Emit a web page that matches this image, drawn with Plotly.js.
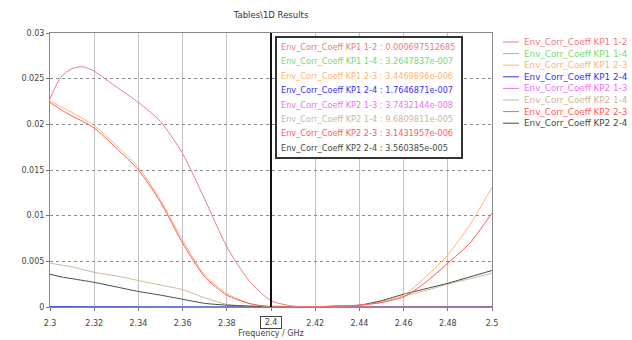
<!DOCTYPE html>
<html>
<head>
<meta charset="utf-8">
<script src="https://cdn.plot.ly/plotly-3.0.1.min.js"></script>
<style>html,body{margin:0;padding:0;background:#fff;}#chart{width:632px;height:340px;}</style>
</head>
<body>
<div id="chart"></div>
<script>
// ---- data ----
const freq = [2.30,2.305,2.31,2.315,2.32,2.33,2.34,2.35,2.36,2.37,2.38,2.39,2.40,2.41,2.42,2.43,2.44,2.45,2.46,2.47,2.48,2.49,2.50];
const kp1_12 = [0.0228,0.0252,0.0261,0.0263,0.0258,0.0241,0.0224,0.0203,0.0168,0.0118,0.0066,0.0029,0.0007,0.0001,0,0,0,0,0,0,0,0,0];
const kp1_14 = [0.00004,0.00004,0.00003,0.00003,0.00003,0.00002,0.00002,0.00001,0.00001,0,0,0,0,0,0,0,0,0.00001,0.00001,0.00002,0.00002,0.00003,0.00004];
const kp1_23 = [0.0226,0.0219,0.0213,0.0206,0.0199,0.0177,0.0153,0.0117,0.0073,0.0035,0.0015,0.0004,0.00001,0,0.00003,0.0001,0.0002,0.0005,0.0013,0.0033,0.0057,0.0090,0.0131];
const kp1_24 = [0.00003,0.00003,0.00003,0.00002,0.00002,0.00002,0.00001,0.00001,0,0,0,0,0,0,0,0,0,0.00001,0.00001,0.00001,0.00002,0.00002,0.00003];
const kp2_13 = [0.00002,0.00002,0.00002,0.00002,0.00001,0.00001,0.00001,0,0,0,0,0,0,0,0,0,0,0,0.00001,0.00001,0.00001,0.00002,0.00002];
const kp2_14 = [0.0048,0.0046,0.0044,0.0041,0.0038,0.0034,0.0029,0.0024,0.0019,0.0010,0.0003,0.0001,0.0001,0.00005,0.00002,0.0001,0.0002,0.0006,0.0012,0.0018,0.0025,0.0031,0.0037];
const kp2_23 = [0.0224,0.0216,0.0209,0.0203,0.0196,0.0174,0.0150,0.0115,0.0070,0.0033,0.0013,0.0004,0.00001,0,0.00002,0.0001,0.0002,0.0005,0.0011,0.0027,0.0048,0.0070,0.0103];
const kp2_24 = [0.0036,0.0033,0.0031,0.0029,0.0027,0.0022,0.0017,0.0013,0.00085,0.0004,0.0002,0.0001,0.00004,0.00002,0.00003,0.0001,0.0002,0.0007,0.0014,0.0020,0.0026,0.0033,0.0040];

const seriesNames = ["Env_Corr_Coeff KP1 1-2","Env_Corr_Coeff KP1 1-4","Env_Corr_Coeff KP1 2-3","Env_Corr_Coeff KP1 2-4",
                     "Env_Corr_Coeff KP2 1-3","Env_Corr_Coeff KP2 1-4","Env_Corr_Coeff KP2 2-3","Env_Corr_Coeff KP2 2-4"];
const seriesData = [kp1_12,kp1_14,kp1_23,kp1_24,kp2_13,kp2_14,kp2_23,kp2_24];
const markerFreq = 2.4;
const markerValues = ["0.000697512685","3.2647837e-007","3.4469896e-006","1.7646871e-007",
                      "3.7432144e-008","9.6809811e-005","3.1431957e-006","3.560385e-005"];
const xTicks = [2.3,2.32,2.34,2.36,2.38,2.4,2.42,2.44,2.46,2.48,2.5];
const xTickText = ["2.3","2.32","2.34","2.36","2.38","2.4","2.42","2.44","2.46","2.48","2.5"];
const yTicks = [0,0.005,0.01,0.015,0.02,0.025,0.03];
const yTickText = ["0","0.005","0.01","0.015","0.02","0.025","0.03"];

// ---- styles ----
const colors = ["#f07a84","#78d878","#ffb574","#3434f0","#f070f0","#c9b99a","#ff5a5a","#3e4c40"];
const drawOrder = [4,1,3,5,7,2,6,0];
const FONT = "DejaVu Sans";
const FS = 8.2;
const FSL = 8.8;

const traces = drawOrder.map(i => ({
  x: freq, y: seriesData[i], type: "scatter", mode: "lines", name: seriesNames[i],
  line: {color: colors[i], width: 1, shape: "spline", smoothing: 0.7},
  showlegend: false, hoverinfo: "skip"
}));

// layout geometry (pixels)
const W = 632, H = 340, L = 50, R = 140, T = 33, B = 33;
const pw = W - L - R, ph = H - T - B;
const px = v => (v - L) / pw;
const py = v => (H - B - v) / ph;

const annotations = [];
const shapes = [];

// marker line
shapes.push({type:"line", xref:"x", yref:"paper", x0:markerFreq, x1:markerFreq, y0:0, y1:1,
             line:{color:"#111", width:2}});
// marker box
shapes.push({type:"rect", xref:"paper", yref:"paper", x0:px(276), x1:px(462), y0:py(158), y1:py(37),
             line:{color:"#333", width:2}, fillcolor:"#fff"});
seriesNames.forEach((n,i) => {
  annotations.push({xref:"paper", yref:"paper", x:px(279), y:py(47 + i*14.4), xanchor:"left", yanchor:"middle",
    text: n + " : " + markerValues[i], showarrow:false, font:{family:FONT, size:FS, color:colors[i]}});
});
// legend at right
seriesNames.forEach((n,i) => {
  const yy = 42 + i*11.6;
  shapes.push({type:"line", xref:"paper", yref:"paper", x0:px(503), x1:px(519), y0:py(yy), y1:py(yy),
               line:{color:colors[i], width:1}});
  annotations.push({xref:"paper", yref:"paper", x:px(522), y:py(yy), xanchor:"left", yanchor:"middle",
    text:n, showarrow:false, font:{family:FONT, size:FSL, color:colors[i]}});
});
// boxed marker tick label
annotations.push({xref:"x", yref:"paper", x:markerFreq, y:py(322), xanchor:"center", yanchor:"middle",
  text:"2.4", showarrow:false, font:{family:FONT, size:8, color:"#444"},
  bordercolor:"#444", borderwidth:1, borderpad:1, bgcolor:"#fff", width:18});

const layout = {
  width: W, height: H,
  margin: {l:L, r:R, t:T, b:B},
  paper_bgcolor:"#fff", plot_bgcolor:"#fff",
  showlegend:false,
  title: {text:"Tables\\1D Results", font:{family:FONT, size:8.5, color:"#333"}, xref:"container", x:271/W, xanchor:"center", y:1-15/H, yanchor:"middle"},
  xaxis: {range:[2.3,2.5], tickvals:xTicks, ticktext:xTickText, showgrid:true, gridcolor:"#c4c4c4", gridwidth:1,
          zeroline:false, showline:true, linecolor:"#888", linewidth:1, mirror:true, ticks:"outside", ticklen:3, tickcolor:"#777",
          ticklabelstandoff:5,
          tickfont:{family:FONT, size:8, color:"#444"},
          title:{text:"Frequency / GHz", font:{family:FONT, size:8, color:"#444"}, standoff:3}},
  yaxis: {range:[0,0.03], tickvals:yTicks, ticktext:yTickText, showgrid:true, gridcolor:"#8a8a8a", griddash:"dot", gridwidth:1,
          zeroline:false, showline:true, linecolor:"#888", linewidth:1, mirror:true, ticks:"outside", ticklen:3, tickcolor:"#777",
          tickfont:{family:FONT, size:8, color:"#444"}},
  shapes: shapes, annotations: annotations
};

Plotly.newPlot("chart", traces, layout, {displayModeBar:false, staticPlot:true});
</script>
</body>
</html>
